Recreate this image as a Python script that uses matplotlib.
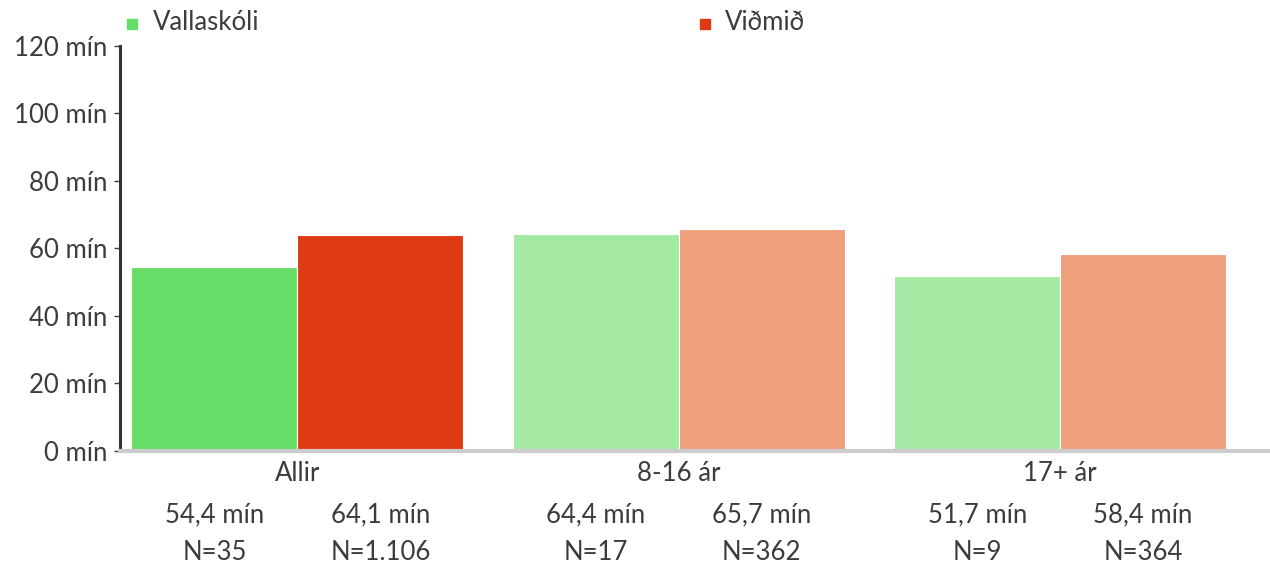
import matplotlib
matplotlib.use("Agg")
import matplotlib.pyplot as plt
import numpy as np

# data
categories = ["Allir", "8-16 ár", "17+ ár"]
school_label = "Vallaskóli"
ref_label = "Viðmið"
school_values = [54.4, 64.4, 51.7]
ref_values = [64.1, 65.7, 58.4]
school_n = ["N=35", "N=17", "N=9"]
ref_n = ["N=1.106", "N=362", "N=364"]
yticks = [0, 20, 40, 60, 80, 100, 120]

school_colors = ["#66dd66", "#a4e9a4", "#a4e9a4"]
ref_colors = ["#de3a14", "#eea07c", "#eea07c"]
text_color = "#3c3c3c"
fs = 18.5

plt.rcParams["font.family"] = ["Lato", "DejaVu Sans"]

fig = plt.figure(figsize=(12.7, 5.65), dpi=100)
ax = fig.add_axes([0.0945, 0.2018, 0.9055, 0.7168])

x = np.arange(len(categories))
w = 0.435
ax.bar(x - w / 2, school_values, width=w, color=school_colors,
       edgecolor="white", linewidth=0.8, zorder=2)
ax.bar(x + w / 2, ref_values, width=w, color=ref_colors,
       edgecolor="white", linewidth=0.8, zorder=2)

ax.set_xlim(-0.465, 2.55)
ax.set_ylim(0, 120)
ax.set_yticks(yticks)
ax.set_yticklabels([f"{v} mín" for v in yticks], fontsize=fs, color=text_color)
ax.tick_params(axis="y", direction="out", length=4, width=1, color=text_color, pad=5)
ax.set_xticks([])

for side in ("top", "right"):
    ax.spines[side].set_visible(False)
ax.spines["left"].set_color("#333333")
ax.spines["left"].set_linewidth(2.2)
ax.spines["bottom"].set_color("#cccccc")
ax.spines["bottom"].set_linewidth(3)

fmt = lambda v: f"{v:.1f}".replace(".", ",") + " mín"
trans = ax.get_xaxis_transform()
for i, cat in enumerate(categories):
    ax.text(x[i], -0.055, cat, transform=trans, ha="center", va="center",
            fontsize=fs, color=text_color)
    for dx, val, n in ((-w / 2, school_values[i], school_n[i]),
                       (w / 2, ref_values[i], ref_n[i])):
        ax.text(x[i] + dx, -0.157, fmt(val), transform=trans, ha="center",
                va="center", fontsize=fs, color=text_color)
        ax.text(x[i] + dx, -0.25, n, transform=trans, ha="center",
                va="center", fontsize=fs, color=text_color)

# legend
fig.patches.append(plt.Rectangle((127 / 1270, 1 - 29 / 565), 10 / 1270, 10 / 565,
                                 transform=fig.transFigure, color=school_colors[0]))
fig.text(153 / 1270, 1 - 22 / 565, school_label, fontsize=fs, color=text_color,
         va="center", ha="left")
fig.patches.append(plt.Rectangle((700 / 1270, 1 - 29 / 565), 10 / 1270, 10 / 565,
                                 transform=fig.transFigure, color=ref_colors[0]))
fig.text(725 / 1270, 1 - 22 / 565, ref_label, fontsize=fs, color=text_color,
         va="center", ha="left")

fig.savefig("out.png", dpi=100)
